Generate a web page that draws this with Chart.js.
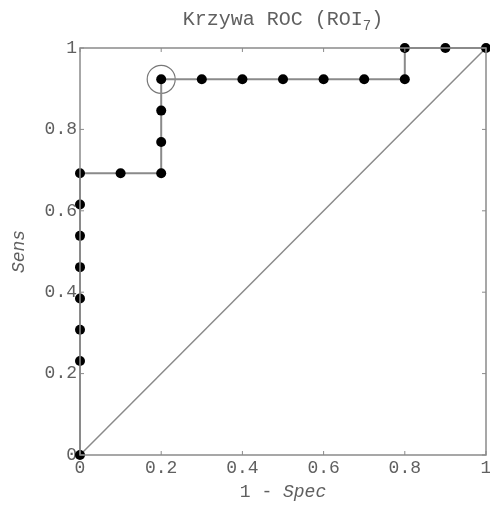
<!DOCTYPE html>
<html>
<head>
<meta charset="utf-8">
<script src="https://cdn.jsdelivr.net/npm/chart.js@4"></script>
<style>
  html, body { margin: 0; padding: 0; background: #fff; }
  #wrap { width: 490px; height: 508px; }
</style>
</head>
<body>
<div id="wrap"><canvas id="roc"></canvas></div>
<script>
  // ROC points (1 - Spec, Sens)
  const fpr = [0, 0, 0, 0, 0, 0, 0, 0, 0.1, 0.2, 0.2, 0.2, 0.2, 0.3, 0.4, 0.5, 0.6, 0.7, 0.8, 0.8, 0.9, 1];
  const sens = [0, 3/13, 4/13, 5/13, 6/13, 7/13, 8/13, 9/13, 9/13, 9/13, 10/13, 11/13, 12/13, 12/13, 12/13, 12/13, 12/13, 12/13, 12/13, 1, 1, 1];
  const cutoff = [0.2, 12/13];
  const tickValues = [0, 0.2, 0.4, 0.6, 0.8, 1];
  const tickLabels = ['0', '0.2', '0.4', '0.6', '0.8', '1'];

  const mono = '"Liberation Mono", "DejaVu Sans Mono", monospace';
  const textGray = '#606060';
  const lineGray = '#8a8a8a';

  const rocPoints = fpr.map((x, i) => ({ x: x, y: sens[i] }));

  // frame, inside ticks, title and axis titles
  const decor = {
    id: 'decor',
    afterDraw(chart) {
      const ctx = chart.ctx;
      const a = chart.chartArea;
      const xs = chart.scales.x, ys = chart.scales.y;
      ctx.save();
      ctx.strokeStyle = lineGray;
      ctx.lineWidth = 1.5;
      ctx.strokeRect(a.left, a.top, a.right - a.left, a.bottom - a.top);
      ctx.lineWidth = 1;
      tickValues.forEach(v => {
        const px = xs.getPixelForValue(v), py = ys.getPixelForValue(v);
        ctx.beginPath();
        ctx.moveTo(px, a.top); ctx.lineTo(px, a.top + 4);
        ctx.moveTo(px, a.bottom); ctx.lineTo(px, a.bottom - 4);
        ctx.moveTo(a.left, py); ctx.lineTo(a.left + 4, py);
        ctx.moveTo(a.right, py); ctx.lineTo(a.right - 4, py);
        ctx.stroke();
      });

      ctx.fillStyle = textGray;
      ctx.textBaseline = 'alphabetic';
      // title with subscript
      const cx = (a.left + a.right) / 2;
      ctx.font = '20px ' + mono;
      const t1 = 'Krzywa ROC (ROI';
      const w1 = ctx.measureText(t1).width;
      ctx.font = '14px ' + mono;
      const ws = ctx.measureText('7').width;
      ctx.font = '20px ' + mono;
      const w2 = ctx.measureText(')').width;
      let x0 = cx - (w1 + ws + w2) / 2;
      ctx.textAlign = 'left';
      ctx.fillText(t1, x0, 25);
      ctx.font = '14px ' + mono;
      ctx.fillText('7', x0 + w1, 30);
      ctx.font = '20px ' + mono;
      ctx.fillText(')', x0 + w1 + ws, 25);

      // x title: "1 - Spec"
      ctx.font = '18px ' + mono;
      const p1 = '1 - ';
      const wp1 = ctx.measureText(p1).width;
      ctx.font = 'italic 18px ' + mono;
      const wp2 = ctx.measureText('Spec').width;
      let xt = cx - (wp1 + wp2) / 2;
      ctx.font = '18px ' + mono;
      ctx.fillText(p1, xt, 497);
      ctx.font = 'italic 18px ' + mono;
      ctx.fillText('Spec', xt + wp1, 497);

      // y title
      ctx.translate(24, (a.top + a.bottom) / 2);
      ctx.rotate(-Math.PI / 2);
      ctx.textAlign = 'center';
      ctx.fillText('Sens', 0, 0);
      ctx.restore();
    }
  };

  new Chart(document.getElementById('roc'), {
    type: 'scatter',
    data: {
      datasets: [
        {
          // chance line, drawn behind
          data: [{ x: 0, y: 0 }, { x: 1, y: 1 }],
          showLine: true,
          borderColor: lineGray,
          borderWidth: 1.5,
          pointRadius: 0,
          clip: false,
          order: 3
        },
        {
          data: rocPoints,
          showLine: true,
          borderColor: lineGray,
          borderWidth: 2,
          pointRadius: 5,
          pointBackgroundColor: '#000',
          pointBorderColor: '#000',
          pointBorderWidth: 0,
          clip: false,
          order: 1
        },
        {
          data: [{ x: cutoff[0], y: cutoff[1] }],
          showLine: false,
          pointRadius: 14,
          pointBackgroundColor: 'rgba(0,0,0,0)',
          pointBorderColor: '#777',
          pointBorderWidth: 1.2,
          clip: false,
          order: 2
        }
      ]
    },
    options: {
      responsive: true,
      maintainAspectRatio: false,
      animation: false,
      layout: { autoPadding: false, padding: { left: 0, right: 4, top: 48, bottom: 0 } },
      plugins: {
        legend: { display: false },
        tooltip: { enabled: false }
      },
      scales: {
        x: {
          type: 'linear',
          min: 0, max: 1,
          afterFit: s => { s.height = 53; s.paddingLeft = 0; s.paddingRight = 0; },
          afterBuildTicks: s => { s.ticks = tickValues.map(v => ({ value: v })); },
          grid: { display: false, drawTicks: false },
          border: { display: false },
          ticks: {
            color: textGray, font: { family: mono, size: 18 }, padding: 2, maxRotation: 0,
            callback: (v, i) => tickLabels[i]
          }
        },
        y: {
          type: 'linear',
          min: 0, max: 1,
          afterFit: s => { s.width = 80; s.paddingTop = 0; s.paddingBottom = 0; },
          afterBuildTicks: s => { s.ticks = tickValues.map(v => ({ value: v })); },
          grid: { display: false, drawTicks: false },
          border: { display: false },
          ticks: {
            color: textGray, font: { family: mono, size: 18 }, padding: 3,
            callback: (v, i) => tickLabels[i]
          }
        }
      }
    },
    plugins: [decor]
  });
</script>
</body>
</html>
